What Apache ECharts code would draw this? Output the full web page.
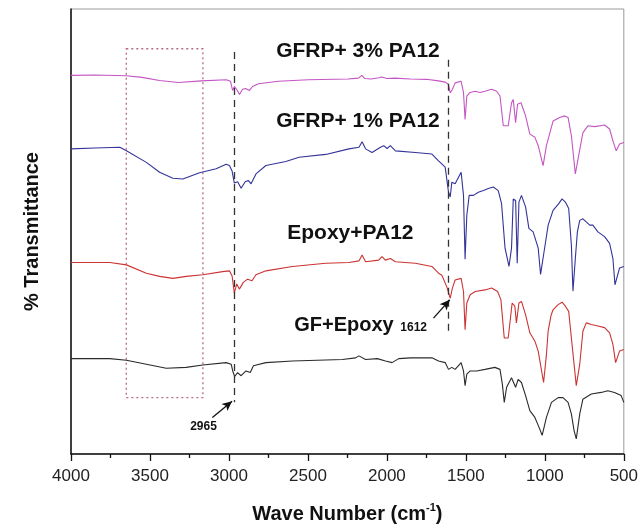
<!DOCTYPE html>
<html><head><meta charset="utf-8">
<script src="https://cdn.jsdelivr.net/npm/echarts@6/dist/echarts.min.js"></script>
<style>html,body{margin:0;padding:0;background:#fff}#c{width:641px;height:529px}</style>
</head><body><div id="c"></div>
<script>
// x: wave number (cm-1), y: % transmittance (offset, arbitrary units)
const xTicks = [4000, 3500, 3000, 2500, 2000, 1500, 1000, 500];
const seriesNames = ['GF+Epoxy', 'Epoxy+PA12', 'GFRP+ 1% PA12', 'GFRP+ 3% PA12'];
const gfEpoxy = [[4000,24.0],[3754,24.0],[3649,23.6],[3523,22.6],[3397,21.6],[3271,21.8],[3166,22.4],[3018,23.0],[2986,22.6],[2976,20.9],[2964,19.5],[2945,20.5],[2923,19.7],[2892,20.9],[2865,20.5],[2845,22.2],[2766,23.0],[2598,23.4],[2282,23.8],[2198,24.2],[2177,24.7],[2135,23.8],[2060,24.0],[2009,23.4],[1967,23.0],[1925,24.0],[1850,24.2],[1715,24.2],[1673,23.4],[1631,23.0],[1610,21.3],[1589,21.8],[1568,21.3],[1530,23.0],[1515,20.9],[1505,17.2],[1494,20.1],[1473,20.9],[1431,20.9],[1379,21.3],[1316,21.8],[1284,21.3],[1269,17.6],[1257,13.0],[1242,16.8],[1211,19.2],[1185,16.8],[1169,18.8],[1148,18.0],[1122,14.7],[1095,10.9],[1063,9.2],[1042,7.2],[1017,4.7],[990,9.2],[958,13.0],[916,14.2],[885,14.2],[853,13.0],[832,10.1],[815,5.9],[801,3.8],[779,10.1],[759,13.8],[706,15.1],[643,15.5],[601,15.9],[559,15.5],[517,14.7],[500,13.0]];
const epoxyPA12 = [[4000,48.2],[3754,48.2],[3649,47.6],[3523,45.5],[3439,44.7],[3355,44.2],[3271,44.7],[3166,45.1],[3040,45.9],[2997,46.1],[2980,44.8],[2966,40.5],[2951,42.8],[2934,41.5],[2909,43.2],[2882,44.0],[2854,43.6],[2829,45.1],[2766,46.1],[2598,47.2],[2387,48.0],[2240,48.2],[2177,48.6],[2157,50.1],[2135,48.4],[2052,48.8],[2031,49.7],[2010,48.8],[1978,49.2],[1946,48.4],[1820,48.0],[1715,47.2],[1673,45.5],[1652,45.0],[1620,42.0],[1599,39.2],[1585,41.8],[1568,43.8],[1530,44.2],[1515,40.9],[1505,31.3],[1494,38.0],[1473,40.1],[1441,40.9],[1379,41.3],[1337,41.8],[1299,40.9],[1278,38.8],[1257,29.2],[1232,29.2],[1207,38.0],[1190,37.2],[1180,33.0],[1164,38.0],[1148,38.4],[1122,35.1],[1095,30.5],[1063,28.4],[1042,25.9],[1008,18.0],[990,25.0],[979,31.0],[960,35.0],[948,36.3],[916,37.6],[891,38.2],[870,37.2],[849,35.9],[832,29.2],[801,17.2],[779,22.6],[759,30.9],[738,33.0],[706,32.6],[664,32.2],[622,31.8],[590,30.5],[569,27.6],[552,23.0],[527,25.9],[500,26.3]];
const gfrp1 = [[4000,76.8],[3850,77.0],[3691,77.2],[3649,76.3],[3523,73.4],[3439,70.9],[3355,69.4],[3292,69.2],[3186,70.8],[3081,71.8],[3018,72.9],[2997,72.6],[2980,71.2],[2966,68.2],[2945,68.5],[2923,66.9],[2896,68.6],[2876,68.8],[2860,68.0],[2829,70.5],[2766,72.6],[2640,73.6],[2556,74.7],[2387,75.4],[2240,76.8],[2177,77.2],[2157,78.6],[2135,76.8],[2094,75.9],[2041,77.2],[2020,77.6],[1999,76.9],[1978,77.6],[1946,76.3],[1820,75.9],[1715,75.5],[1673,73.8],[1631,72.2],[1610,65.9],[1599,64.7],[1589,68.4],[1568,68.0],[1530,70.9],[1515,65.1],[1505,49.0],[1494,60.1],[1479,65.1],[1452,65.1],[1421,65.9],[1389,66.3],[1358,66.8],[1326,67.2],[1295,66.3],[1274,63.0],[1252,51.8],[1227,47.2],[1211,51.8],[1200,64.2],[1185,63.8],[1175,48.0],[1164,63.4],[1148,65.1],[1122,62.2],[1101,56.8],[1074,55.9],[1042,51.8],[1027,45.2],[1005,50.9],[979,57.6],[948,61.3],[912,63.0],[891,64.2],[870,63.4],[849,61.8],[832,52.6],[822,41.0],[807,49.2],[794,55.9],[779,58.8],[759,59.2],[738,58.4],[716,57.6],[696,57.6],[664,55.9],[622,54.7],[590,53.0],[569,49.2],[556,42.6],[527,46.8],[500,47.2]];
const gfrp3 = [[4000,95.3],[3850,95.4],[3650,95.2],[3550,94.8],[3440,94.0],[3320,93.5],[3175,93.9],[3017,94.2],[2990,93.8],[2977,91.5],[2965,92.5],[2952,91.8],[2933,90.5],[2914,91.8],[2895,92.0],[2870,91.5],[2851,92.5],[2813,93.2],[2687,93.8],[2498,94.2],[2246,94.4],[2180,94.6],[2159,95.3],[2140,94.5],[2100,94.4],[2050,94.7],[2033,94.9],[2000,94.5],[1950,94.6],[1850,94.4],[1750,94.3],[1673,93.9],[1630,93.6],[1610,93.0],[1599,90.9],[1585,91.8],[1568,93.4],[1530,93.8],[1515,91.0],[1505,84.2],[1494,90.1],[1473,91.0],[1441,91.3],[1410,91.0],[1379,91.3],[1337,91.8],[1305,91.3],[1284,90.1],[1263,82.6],[1232,82.6],[1211,88.4],[1200,89.2],[1185,83.4],[1173,88.0],[1151,88.4],[1122,85.1],[1095,80.5],[1063,79.7],[1042,77.6],[1011,72.6],[990,77.6],[948,83.8],[906,84.7],[874,85.1],[853,84.7],[832,80.1],[807,70.5],[790,74.2],[759,80.9],[727,82.6],[685,82.4],[622,82.8],[590,81.8],[569,78.8],[548,76.3],[527,78.0],[500,78.4]];
const markedPeaks = [2965, 1612];
const peakLineTop = [101.2, 99.2];
const peakLineBottom = [13.0, 29.8];
const boxRange = [3650, 3165, 102.0, 14.2];

const FONT = 'Liberation Sans, Arial, sans-serif';
const colors = ['#2b2b2b', '#cc3333', '#333399', '#c455c4'];
const datasets = [gfEpoxy, epoxyPA12, gfrp1, gfrp3];

const chart = echarts.init(document.getElementById('c'), null, {renderer: 'canvas'});
const series = datasets.map((d, i) => ({
  name: seriesNames[i], type: 'line', data: d, showSymbol: false, symbol: 'none',
  lineStyle: {color: colors[i], width: 1.1}, animation: false, silent: true, z: 3
}));
series[0].markLine = {
  silent: true, symbol: 'none', animation: false,
  label: {show: false},
  lineStyle: {color: '#333', type: [7, 5], width: 1.3},
  data: markedPeaks.map((p, i) => [{coord: [p, peakLineTop[i]]}, {coord: [p, peakLineBottom[i]]}])
};
series[1].markLine = {
  silent: true, symbol: ['none', 'arrow'], symbolSize: [7, 10], animation: false,
  label: {show: false},
  lineStyle: {color: '#111', type: 'solid', width: 1.3},
  data: [
    [{coord: [3105, 9.2]}, {coord: [2980, 13.3]}],
    [{coord: [1705, 34.2]}, {coord: [1602, 38.8]}]
  ]
};
series[2].markArea = {
  silent: true, animation: false,
  itemStyle: {color: 'rgba(0,0,0,0)', borderColor: '#b86a86', borderWidth: 1.3, borderType: [2, 3]},
  data: [[{coord: [boxRange[0], boxRange[2]]}, {coord: [boxRange[1], boxRange[3]]}]]
};

chart.setOption({
  animation: false,
  backgroundColor: '#fff',
  grid: {left: 71, right: 15, top: 9, bottom: 72, show: true, borderColor: '#9a9a9a', borderWidth: 1},
  xAxis: {
    type: 'value', inverse: true, min: 500, max: 4000, interval: 500,
    axisLine: {show: true, lineStyle: {color: '#111', width: 1.5}},
    axisTick: {show: true, inside: false, length: 7, lineStyle: {color: '#111', width: 1.3}},
    minorTick: {show: true, splitNumber: 2, length: 4, lineStyle: {color: '#111', width: 1.3}},
    splitLine: {show: false},
    axisLabel: {color: '#222', fontSize: 17, fontFamily: FONT, margin: 14,
      formatter: v => xTicks.includes(v) ? String(v) : ''},
    name: '{b|Wave Number (cm}{s|-1}{b|)}', nameLocation: 'middle', nameGap: 48,
    nameTextStyle: {rich: {
      b: {fontSize: 20, fontWeight: 'bold', fontFamily: FONT, color: '#111', lineHeight: 24},
      s: {fontSize: 11, fontWeight: 'bold', fontFamily: FONT, color: '#111', verticalAlign: 'top', lineHeight: 14}
    }}
  },
  yAxis: {
    type: 'value', min: 0, max: 112,
    axisLine: {show: true, lineStyle: {color: '#111', width: 1.5}},
    axisTick: {show: false}, axisLabel: {show: false}, splitLine: {show: false},
    name: '% Transmittance', nameLocation: 'middle', nameGap: 29, nameRotate: 90,
    nameTextStyle: {fontSize: 20, fontWeight: 'bold', fontFamily: FONT, color: '#111'}
  },
  series: series
});

const labelStyle = (size) => ({fontSize: size, fontWeight: 'bold', fontFamily: FONT, fill: '#111'});
const txt = (t, x, y, size, align) => {
  const p = chart.convertToPixel({gridIndex: 0}, [x, y]);
  return {type: 'text', x: p[0], y: p[1], silent: true,
    style: Object.assign({text: t, align: align || 'left', verticalAlign: 'middle'}, labelStyle(size))};
};
chart.setOption({graphic: [
  txt('GFRP+ 3% PA12', 2701, 101.4, 21),
  txt('GFRP+ 1% PA12', 2701, 83.7, 21),
  txt('Epoxy+PA12', 2631, 55.6, 21),
  txt('GF+Epoxy', 2587, 32.4, 20),
  txt('1612', 1915, 31.9, 12),
  txt('2965', 3161, 6.9, 12, 'center')
]});
</script></body></html>
